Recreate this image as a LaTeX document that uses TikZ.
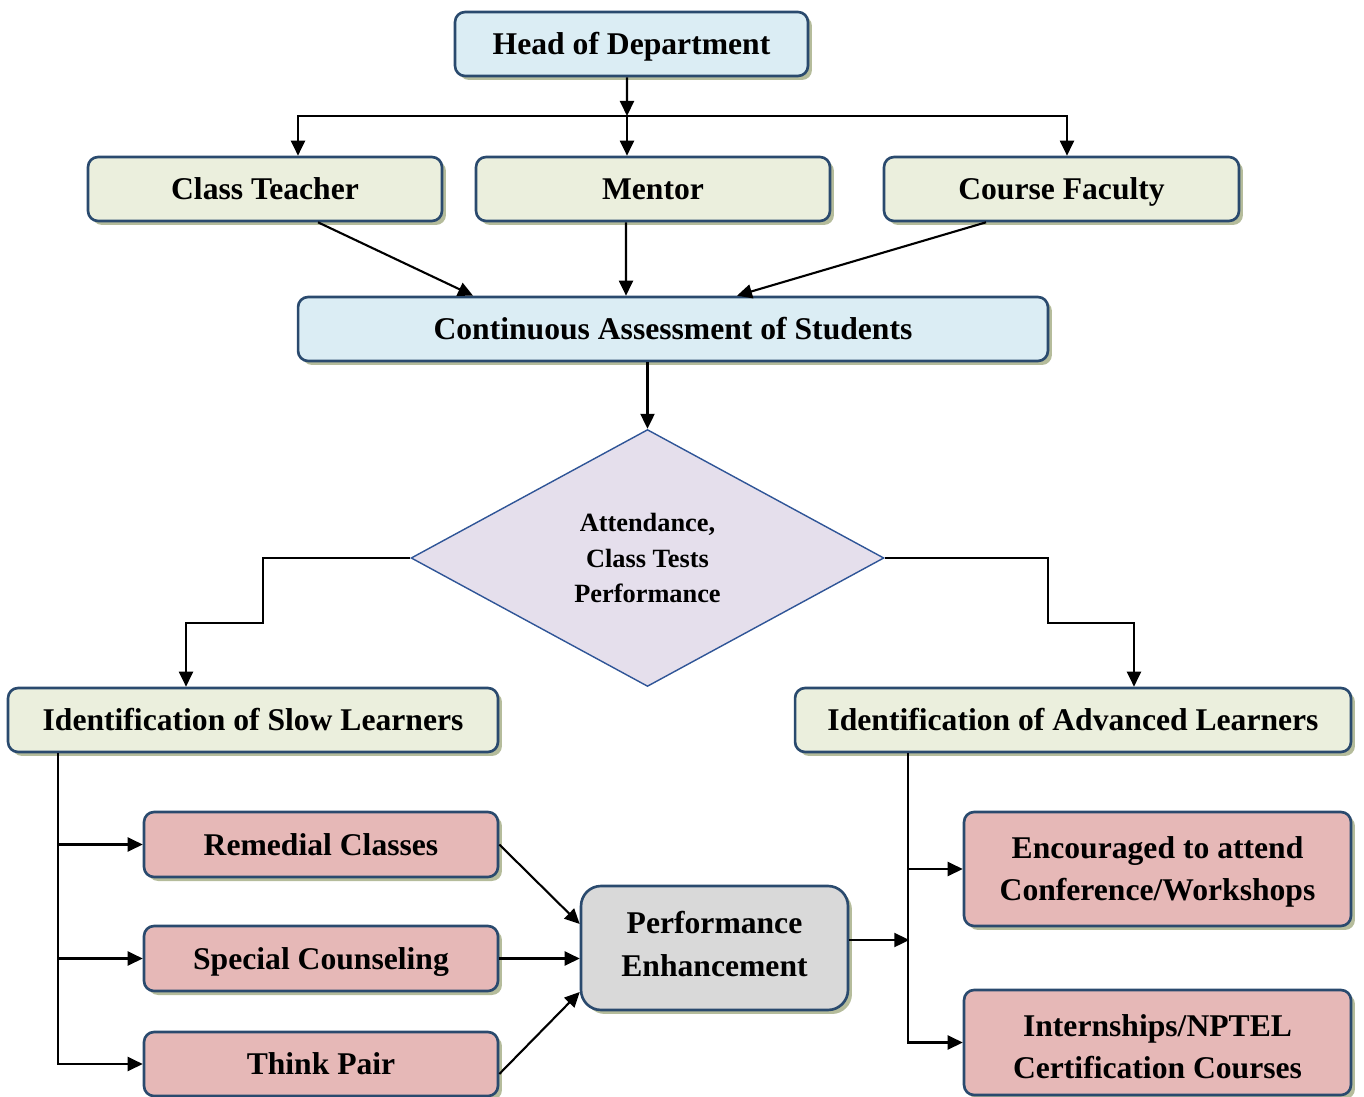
\documentclass[tikz,border=0pt]{standalone}
\usepackage{fontspec}
\setmainfont{Liberation Serif}
\usetikzlibrary{shapes.geometric,shadows,arrows.meta,calc}

\definecolor{boxline}{HTML}{2A4A6E}
\definecolor{bluefill}{HTML}{DBEDF4}
\definecolor{greenfill}{HTML}{EBEFDD}
\definecolor{pinkfill}{HTML}{E6B8B7}
\definecolor{greyfill}{HTML}{D9D9D9}
\definecolor{lilacfill}{HTML}{E5DFEC}
\definecolor{lilacline}{HTML}{2F5597}
\definecolor{shadowcol}{HTML}{B5BC9B}

% two-line box text, moved up or down without changing the box
\newcommand{\twolines}[4]{\raisebox{#1}[\height][\depth]{\parbox{#2}{\centering #3\\#4}}}

\begin{document}
\begin{tikzpicture}[x=0.02cm,y=-0.02cm,
		box/.style={draw=boxline,line width=1.5pt,rounded corners=0.2cm,
			inner sep=0pt,minimum height=1.28cm,align=center,
			font=\fontsize{18}{24}\selectfont\bfseries,
			drop shadow={shadow xshift=0.08cm,shadow yshift=-0.08cm,
				fill=shadowcol,opacity=1}},
		oneline/.style={text height=12pt,text depth=0pt},
		bluebox/.style={box,oneline,fill=bluefill},
		greenbox/.style={box,oneline,fill=greenfill},
		pinkbox/.style={box,fill=pinkfill},
		arr/.style={line width=1.2pt,-{Triangle[length=0.3cm,width=0.28cm]}}]
	
	\useasboundingbox (0,0) rectangle (1364,1097);
	
	% top of the chart
	\node[bluebox,minimum width=7.06cm] (hod) at (631.5,44) {Head of Department};
	\node[greenbox,minimum width=7.08cm] (teacher) at (265,189) {Class Teacher};
	\node[greenbox,minimum width=7.08cm] (mentor) at (653,189) {Mentor};
	\node[greenbox,minimum width=7.1cm] (faculty) at (1061.5,189) {Course Faculty};
	\node[bluebox,minimum width=15cm] (assess) at (673,329) {Continuous Assessment of Students};
	
	\node[diamond,draw=lilacline,fill=lilacfill,line width=0.8pt,inner sep=0pt,
		minimum width=9.46cm,minimum height=5.14cm,align=center,
		font=\fontsize{15}{20}\selectfont\bfseries] (check) at (647.5,558)
		{Attendance,\\Class Tests\\Performance};
	
	% learners
	\node[greenbox,minimum width=9.8cm] (slow) at (253,720) {Identification of Slow Learners};
	\node[greenbox,minimum width=11.12cm] (adv) at (1073,720) {Identification of Advanced Learners};
	
	\node[pinkbox,oneline,minimum width=7.08cm,minimum height=1.3cm] (remedial) at (321,844.5) {Remedial Classes};
	\node[pinkbox,oneline,minimum width=7.08cm,minimum height=1.3cm] (counsel) at (321,958.5) {Special Counseling};
	\node[pinkbox,oneline,minimum width=7.08cm] (thinkpair) at (321,1064) {Think Pair};
	
	\node[box,fill=greyfill,rounded corners=0.4cm,minimum width=5.34cm,minimum height=2.48cm]
		(perf) at (714.5,948) {\twolines{0.08cm}{4.6cm}{Performance}{Enhancement}};
	
	\node[pinkbox,minimum width=7.74cm,minimum height=2.28cm] (encourage) at (1157.5,869)
		{\twolines{-0.06cm}{7cm}{Encouraged to attend}{Conference/Workshops}};
	\node[pinkbox,minimum width=7.74cm,minimum height=2.1cm] (intern) at (1157.5,1042.5)
		{\twolines{-0.08cm}{7cm}{Internships/NPTEL}{Certification Courses}};
	
	% connectors
	\coordinate (bus) at (627,116);
	\draw[arr] ([xshift=-0.09cm]hod.south) -- (bus);
	\draw[arr] (bus) -| ([xshift=0.66cm]teacher.north);
	\draw[arr] (bus) -| ([xshift=0.11cm]faculty.north);
	\draw[arr] (bus) -- (bus |- mentor.north);
	
	\draw[arr] ([xshift=1.06cm]teacher.south) -- ([xshift=-4cm]assess.north);
	\draw[arr] ([xshift=-0.54cm]mentor.south) -- ([xshift=-0.94cm]assess.north);
	\draw[arr] ([xshift=-1.51cm]faculty.south) -- ([xshift=1.28cm]assess.north);
	\draw[arr] (check.north |- assess.south) -- (check.north);
	
	\draw[arr] (check.west) -- ++(-147,0) -- ++(0,65) -| ([xshift=-1.34cm]slow.north);
	\draw[arr] (check.east) -- ++(163,0) -- ++(0,65) -| ([xshift=1.22cm]adv.north);
	
	\coordinate (sbus) at ([xshift=-3.9cm]slow.south);
	\draw[arr] (sbus) |- (thinkpair.west);
	\draw[arr] (sbus |- remedial.west) -- (remedial.west);
	\draw[arr] (sbus |- counsel.west) -- (counsel.west);
	
	\draw[arr] (remedial.east) -- ([yshift=0.48cm]perf.west);
	\draw[arr] (counsel.east) -- (counsel.east -| perf.west);
	\draw[arr] ([yshift=-0.2cm]thinkpair.east) -- ([yshift=-0.88cm]perf.west);
	
	\coordinate (abus) at ([xshift=-3.3cm]adv.south);
	\draw[arr] ([yshift=0.16cm]perf.east) -- ++(60,0);
	\draw[arr] (abus) |- (intern.west);
	\draw[arr] (abus |- encourage.west) -- (encourage.west);
	
\end{tikzpicture}
\end{document}
